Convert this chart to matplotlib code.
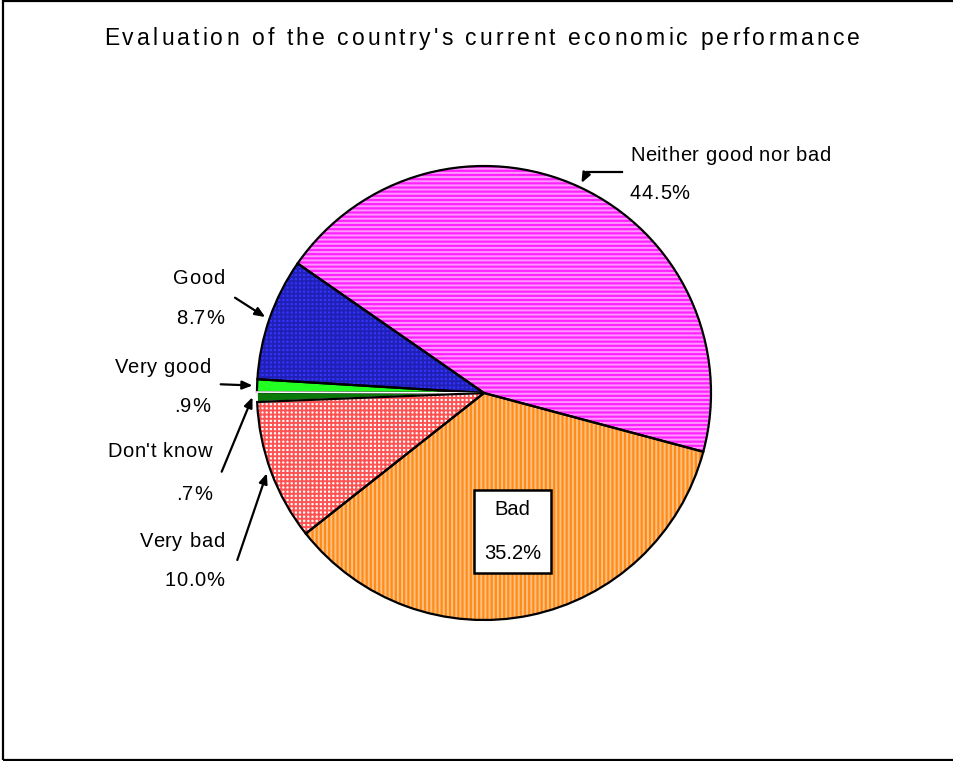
import numpy as np
import matplotlib
matplotlib.use('Agg')
import matplotlib.pyplot as plt
from matplotlib.patches import Rectangle
from matplotlib.lines import Line2D
from matplotlib.textpath import TextToPath
from matplotlib.font_manager import FontProperties

# survey answers, counter-clockwise from the right-hand edge
categories = ["Neither good nor bad", "Good", "Very good", "Don't know", "Very bad", "Bad"]
percents = [44.5, 8.7, 0.9, 0.7, 10.0, 35.2]
pct_labels = ["44.5%", "8.7%", ".9%", ".7%", "10.0%", "35.2%"]
title = "Evaluation of the country's current economic performance"

# fill colour, hatch colour, hatch pattern for each slice
faces = ['#ff22ff', '#3434ff', '#22ff22', '#0a7a0a', '#ffffff', '#ff8c1a']
hatch_cols = ['#ff99ff', '#2020b4', '#22ff22', '#0a7a0a', '#ff5252', '#ffc080']
hatches = ['----', '++++', None, None, '++++', '||||']

W, H, DPI = 954, 761, 100
FONT = 'Liberation Sans'
ttp = TextToPath()


def fx(x, y):
    """pixel position (from top-left) -> figure fraction"""
    return x / W, 1 - y / H


def text_w(s, size):
    prop = FontProperties(family=FONT, size=size)
    w, h, d = ttp.get_text_width_height_descent(s, prop, ismath=False)
    return w * DPI / 72.0


def spaced(fig, x, y, s, size, track=0.0, ha='left', width=None):
    """draw s letter by letter with extra tracking (px), y is the baseline.
    if width is given the tracking is chosen so the line spans that many px"""
    natural = text_w(s, size)
    if width is not None:
        track = (width - natural) / (len(s) - 1)
    total = natural + track * (len(s) - 1)
    x0 = {'left': x, 'right': x - total, 'center': x - total / 2}[ha]
    for i, c in enumerate(s):
        if c == ' ':
            continue
        # ink-left of char i inside the untracked string
        off = text_w(s[:i + 1], size) - text_w(c, size) if i else 0.0
        fig.text(*fx(x0 + off + track * i, y), c, fontsize=size, family=FONT,
                 ha='left', va='baseline')


plt.rcParams['hatch.linewidth'] = 1.4
fig = plt.figure(figsize=(W / DPI, H / DPI), dpi=DPI)

# outer frame
fig.add_artist(Rectangle(fx(3, 760), (W + 10) / W, 759 / H, transform=fig.transFigure,
                         fill=False, edgecolor='black', lw=1.6, clip_on=False))

spaced(fig, 104, 45, title, 16.5, width=756)

# pie: centre (484, 393), radius 227 px
R = 227
ax = fig.add_axes([(484 - R) / W, (H - 393 - R) / H, 2 * R / W, 2 * R / H])

start = -15
wedges, _ = ax.pie(percents, startangle=start, counterclock=True, radius=1,
                   colors=faces, wedgeprops=dict(linewidth=0))
for wd, hc, ht in zip(wedges, hatch_cols, hatches):
    if ht:
        wd.set_edgecolor(hc)
        wd.set_hatch(ht)
        wd.set_linewidth(0)
# outlines on top
outl, _ = ax.pie(percents, startangle=start, counterclock=True, radius=1,
                 wedgeprops=dict(fill=False, edgecolor='black', linewidth=1.6))
outl[3].set_edgecolor('white')
outl[3].set_linewidth(1.2)

# pie() resets the limits, so fix them afterwards
ax.set_xlim(-1, 1)
ax.set_ylim(-1, 1)
ax.set_aspect('equal')
ax.axis('off')

# mid angle of each slice in degrees
edges = start + 3.6 * np.concatenate([[0], np.cumsum(percents)])
mids = (edges[:-1] + edges[1:]) / 2

# outside labels: (name x, name baseline, pct baseline, align, arrow tail)
layout = {
    0: (630, 161, 199, 'left', (587, 172.3)),
    1: (224, 284, 324, 'right', (235, 297.7)),
    2: (210, 372.7, 411.7, 'right', (220.7, 384.3)),
    3: (211.7, 457.3, 500, 'right', (221.7, 471.7)),
    4: (224, 546.7, 586, 'right', (237.3, 560)),
}
size, track = 14.5, 0.6
for i, (x, yn, yp, ha, tail) in layout.items():
    spaced(fig, x, yn, categories[i], size, track, ha)
    spaced(fig, x, yp, pct_labels[i], size, track, ha)
    a = np.deg2rad(mids[i])
    ax.annotate('', xy=(1.02 * np.cos(a), 1.02 * np.sin(a)), xycoords='data',
                xytext=fx(*tail), textcoords='figure fraction',
                arrowprops=dict(arrowstyle='-|>,head_length=0.6,head_width=0.25',
                                color='black', lw=1.6, shrinkA=0, shrinkB=0),
                annotation_clip=False)
# elbow on the top label's leader
fig.add_artist(Line2D([621.7 / W, 587 / W], [1 - 172.3 / H] * 2,
                      transform=fig.transFigure, color='black', lw=1.6))

# boxed label inside the biggest lower slice
a = np.deg2rad(mids[5])
ax.text(0.624 * np.cos(a), 0.624 * np.sin(a), categories[5] + '\n' + pct_labels[5],
        ha='center', va='center', fontsize=size, family=FONT, linespacing=2.65,
        bbox=dict(boxstyle='square,pad=0.5', facecolor='white', edgecolor='black', lw=1.8))

fig.savefig('out.png', dpi=DPI)
